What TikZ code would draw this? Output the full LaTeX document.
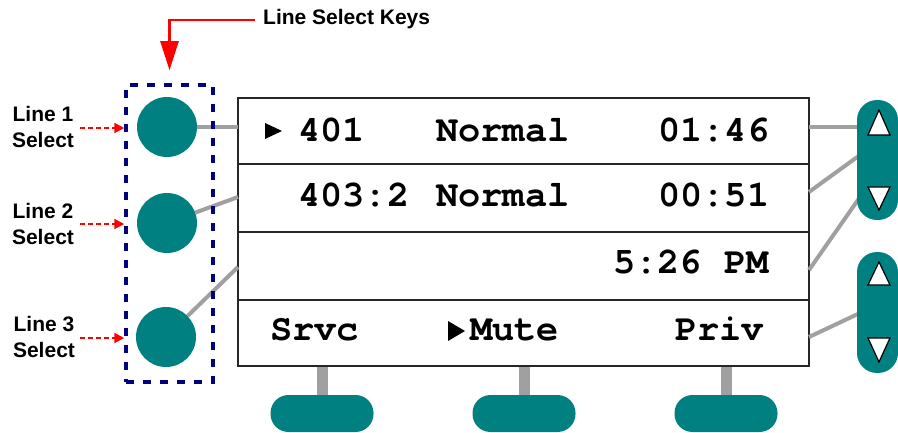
\documentclass[tikz,border=0pt]{standalone}
\usepackage{fontspec}
\setmainfont{Liberation Sans}
\newfontfamily\lcd{TeX Gyre Cursor}
\usetikzlibrary{arrows.meta}
\definecolor{teal1}{RGB}{0,128,128}
\definecolor{navy1}{RGB}{0,0,128}
\definecolor{conn}{RGB}{160,160,160}
\begin{document}
\begin{tikzpicture}[x=1pt,y=-1pt,
  key/.style={circle,fill=teal1,minimum size=60pt,inner sep=0pt},
  lbl/.style={font=\fontsize{21}{26}\selectfont\bfseries,align=center,inner sep=0pt},
  lcdtxt/.style={font=\fontsize{37}{40}\selectfont\lcd\bfseries,inner sep=0pt,anchor=base west},
  wire/.style={conn,line width=4pt},
  stemline/.style={conn,line width=11pt},
  pill/.style={fill=teal1,rounded corners=18pt,minimum width=103pt,minimum height=37pt,inner sep=0pt},
  rocker/.style={fill=teal1,rounded corners=20pt,minimum width=41pt,inner sep=0pt},
  tri/.style={fill=white,draw=black,line width=1.2pt,line join=miter},
  divider/.style={draw=black!85,line width=2pt},
  reddash/.style={red,line width=2pt,dash pattern=on 5pt off 3pt,-{Triangle[length=10pt,width=10pt]}}
]
\useasboundingbox (0,0) rectangle (898,433);

% display
\node[draw=black!85,line width=2pt,fill=white,minimum width=571pt,minimum height=268pt,inner sep=0pt] (disp) at (523.5,232) {};
\draw[divider] (disp.west |- 0,164) -- (disp.east |- 0,164);
\draw[divider] (disp.west |- 0,232.5) -- (disp.east |- 0,232.5);
\draw[divider] (disp.west |- 0,300) -- (disp.east |- 0,300);

% display text
\fill (265,123) -- (282,131) -- (265,139) -- cycle;
\node[lcdtxt] (t401) at (298,142) {401};
\node[lcdtxt] (tn1) at (436,142) {Normal};
\node[lcdtxt] (tt1) at (658,142) {01:46};
\node[lcdtxt] (t403) at (298,207) {403:2};
\node[lcdtxt] (tn2) at (436,207) {Normal};
\node[lcdtxt] (tt2) at (658,207) {00:51};
\node[lcdtxt] (tpm) at (613,273) {5:26 PM};
\node[lcdtxt] (tsrvc) at (270,340) {Srvc};
\fill (448,321) -- (465,331) -- (448,341) -- cycle;
\node[lcdtxt] (tmute) at (470,340) {Mute};
\node[lcdtxt] (tpriv) at (675,340) {Priv};

% left keys
\node[key] (k1) at (167,127) {};
\node[key] (k2) at (167,223) {};
\node[key] (k3) at (166,337) {};
\coordinate (dl1) at (238,127);
\coordinate (dl2) at (238,197);
\coordinate (dl3) at (238,267);
\draw[wire] (k1) -- (dl1);
\draw[wire] (k2) -- (dl2);
\draw[wire] (k3) -- (dl3);

% dashed selection box
\node[draw=navy1,line width=3.5pt,dash pattern=on 8pt off 9pt,minimum width=87pt,minimum height=297pt,inner sep=0pt] (lsk) at (169.5,233.5) {};

% labels
\node[lbl] (l1) at (43,126.5) {Line 1\\Select};
\node[lbl] (l2) at (43,224) {Line 2\\Select};
\node[lbl] (l3) at (44,337) {Line 3\\Select};
\coordinate (a1) at (80,128);
\coordinate (a2) at (80,224);
\coordinate (a3) at (80,338);
\draw[reddash] (a1) -- (lsk.west |- a1);
\draw[reddash] (a2) -- (lsk.west |- a2);
\draw[reddash] (a3) -- (lsk.west |- a3);

% title arrow
\node[font=\fontsize{21}{24}\selectfont\bfseries,inner sep=0pt,anchor=base west] (lskt) at (263,25) {Line Select Keys};
\coordinate (ts) at (255,20);
\draw[red,line width=2.5pt,-{Triangle[length=29pt,width=18pt]}] (ts) -| ([yshift=13pt]lsk.north);

% right rockers
\coordinate (dr1) at (809,127);
\coordinate (dr2) at (809,192);
\coordinate (dr3) at (809,270);
\coordinate (dr4) at (809,337);
\coordinate (re1) at (860,127);
\coordinate (re2) at (860,155);
\coordinate (re3) at (860,197);
\coordinate (re4) at (860,313);
\draw[wire] (dr1) -- (re1);
\draw[wire] (dr2) -- (re2);
\draw[wire] (dr3) -- (re3);
\draw[wire] (dr4) -- (re4);
\node[rocker,minimum height=120pt] (r1) at (877.5,160) {};
\node[rocker,minimum height=121pt] (r2) at (877.5,312.5) {};
\draw[tri] (868,135) -- (879,110) -- (890,135) -- cycle;
\draw[tri] (868,187) -- (890,187) -- (879,210) -- cycle;
\draw[tri] (868,285) -- (879,262) -- (890,285) -- cycle;
\draw[tri] (868,338) -- (890,338) -- (879,362) -- cycle;

% bottom soft keys
\node[pill] (p1) at (322,413.5) {};
\node[pill] (p2) at (524,413.5) {};
\node[pill] (p3) at (726,413.5) {};
\draw[stemline] (disp.south -| p1) -- (p1.north);
\draw[stemline] (disp.south -| p2) -- (p2.north);
\draw[stemline] (disp.south -| p3) -- (p3.north);
\end{tikzpicture}
\end{document}
